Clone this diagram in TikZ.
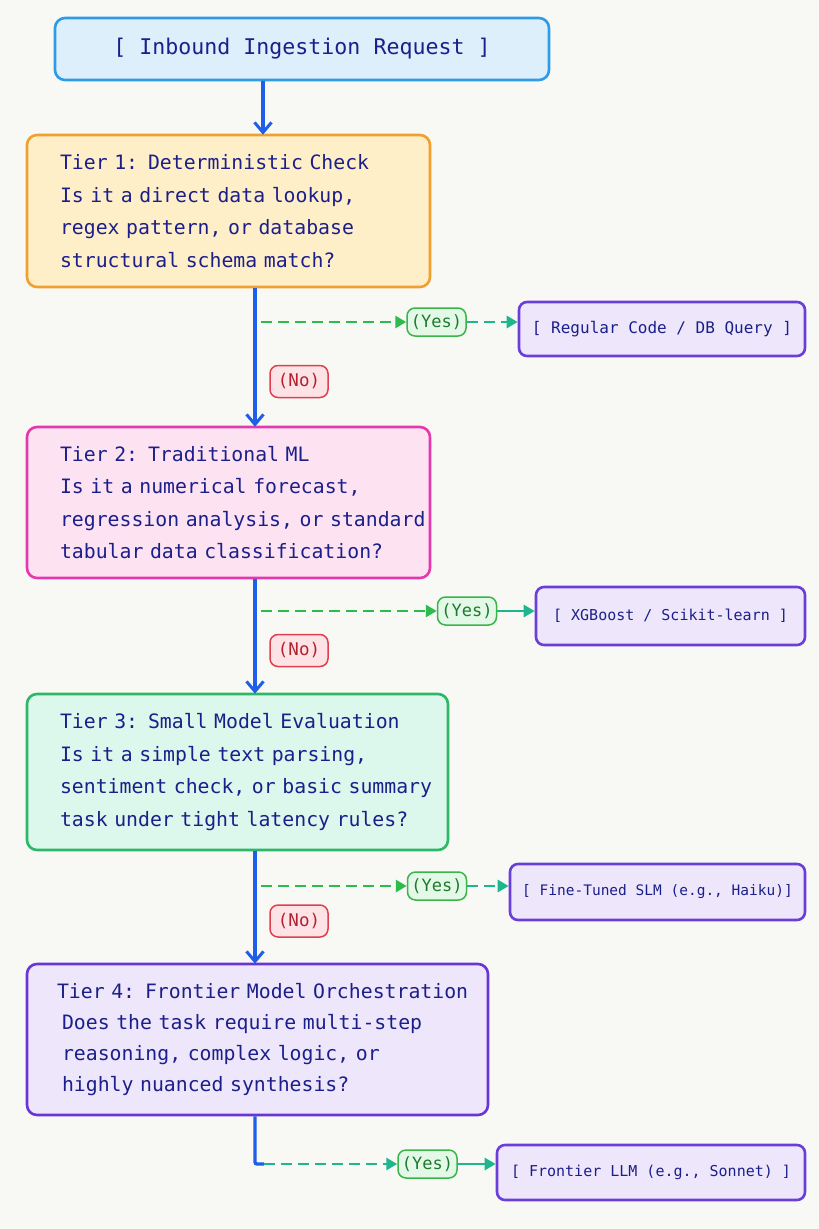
\documentclass[tikz,border=0pt]{standalone}
\usepackage{fontspec}
\setmainfont{DejaVu Sans Mono}
\usetikzlibrary{arrows.meta}
\definecolor{bgc}{HTML}{F8F9F4}
\definecolor{ink}{HTML}{1B1F8A}
\definecolor{inF}{HTML}{DCEFFB}\definecolor{inD}{HTML}{2D9BE6}
\definecolor{aF}{HTML}{FFEFC9}\definecolor{aD}{HTML}{F0A030}
\definecolor{bF}{HTML}{FDE2F2}\definecolor{bD}{HTML}{E23AAE}
\definecolor{cF}{HTML}{DCF7EC}\definecolor{cD}{HTML}{2CB866}
\definecolor{dF}{HTML}{EEE6FB}\definecolor{dD}{HTML}{6A35D8}
\definecolor{rF}{HTML}{EEE7FB}\definecolor{rD}{HTML}{6A3ED8}
\definecolor{yF}{HTML}{E3F8E6}\definecolor{yD}{HTML}{39B54A}\definecolor{yT}{HTML}{1E7A2E}
\definecolor{nF}{HTML}{FDE3E6}\definecolor{nD}{HTML}{E0404E}\definecolor{nT}{HTML}{B3202F}
\definecolor{spine}{HTML}{1F5FE8}
\definecolor{gline}{HTML}{2DBB4E}\definecolor{tline}{HTML}{1FB58F}
\newcommand{\tline}[1]{\mbox{#1}}
\begin{document}
\begin{tikzpicture}[x=1pt,y=-1pt,
  tierbox/.style={rectangle, rounded corners=10pt, line width=2.6pt, inner xsep=33pt, inner ysep=0pt,
    align=left, text=ink, font=\fontsize{19.8}{32.5}\selectfont},
  sidebox/.style={rectangle, rounded corners=8pt, line width=2.6pt, draw=rD, fill=rF, inner sep=0pt,
    text=ink, font=\fontsize{15}{18}\selectfont},
  yesbox/.style={rectangle, rounded corners=8pt, line width=1.5pt, draw=yD, fill=yF, inner sep=0pt,
    minimum width=59pt, minimum height=28pt, text=yT, font=\fontsize{17}{20}\selectfont},
  nobox/.style={rectangle, rounded corners=8pt, line width=1.5pt, draw=nD, fill=nF, inner sep=0pt,
    minimum width=58pt, minimum height=32pt, text=nT, font=\fontsize{17.5}{20}\selectfont},
  spineline/.style={draw=spine, line width=3.4pt},
  spinearrow/.style={spineline, -{Straight Barb[length=10pt,width=17pt,line width=3pt]}},
  yesline/.style={draw=gline, line width=2.8pt, dash pattern=on 11pt off 6pt, -{Triangle[length=11pt,width=12pt]}},
  yesline2/.style={draw=tline, line width=2.8pt, dash pattern=on 11pt off 6pt, -{Triangle[length=11pt,width=12pt]}},
  yessolid/.style={draw=tline, line width=2.8pt, -{Triangle[length=11pt,width=12pt]}}
]
\fill[bgc] (0,0) rectangle (819,1229);
\useasboundingbox (0,0) rectangle (819,1229);

% main column
\node[tierbox, draw=inD, fill=inF, minimum width=494pt, minimum height=62pt, inner xsep=0pt, align=center,
  font=\fontsize{21.6}{26}\selectfont] (inb) at (302,49) {[ Inbound Ingestion Request ]};

\node[tierbox, draw=aD, fill=aF, text width=337pt, minimum height=152pt] (t1) at (228.5,211)
 {\tline{Tier 1: Deterministic Check}\\\tline{Is it a direct data lookup,}\\\tline{regex pattern, or database}\\\tline{structural schema match?}};

\node[tierbox, draw=bD, fill=bF, text width=337pt, minimum height=151pt] (t2) at (228.5,502.5)
 {\tline{Tier 2: Traditional ML}\\\tline{Is it a numerical forecast,}\\\tline{regression analysis, or standard}\\\tline{tabular data classification?}};

\node[tierbox, draw=cD, fill=cF, text width=355pt, minimum height=156pt] (t3) at (237.5,772)
 {\tline{Tier 3: Small Model Evaluation}\\\tline{Is it a simple text parsing,}\\\tline{sentiment check, or basic summary}\\\tline{task under tight latency rules?}};

\node[tierbox, draw=dD, fill=dF, text width=401pt, minimum height=151pt, inner xsep=30pt,
  font=\fontsize{19.8}{31}\selectfont] (t4) at (257.5,1039.5)
 {\tline{Tier 4: Frontier Model Orchestration}\\\tline{\hspace*{5pt}Does the task require multi-step}\\\tline{\hspace*{5pt}reasoning, complex logic, or}\\\tline{\hspace*{5pt}highly nuanced synthesis?}};

% result boxes
\node[sidebox, minimum width=286pt, minimum height=54pt, font=\fontsize{16}{18}\selectfont] (r1) at (662,329) {[ Regular Code / DB Query ]};
\node[sidebox, minimum width=269pt, minimum height=58pt] (r2) at (670.5,616) {[ XGBoost / Scikit-learn ]};
\node[sidebox, minimum width=295pt, minimum height=56pt, font=\fontsize{14.5}{18}\selectfont] (r3) at (657.5,892) {[ Fine-Tuned SLM (e.g., Haiku)]};
\node[sidebox, minimum width=308pt, minimum height=55pt] (r4) at (651,1172.5) {[ Frontier LLM (e.g., Sonnet) ]};

% labels
\node[yesbox] (y1) at (436.5,322) {(Yes)};
\node[yesbox] (y2) at (467,611) {(Yes)};
\node[yesbox] (y3) at (437,886) {(Yes)};
\node[yesbox] (y4) at (427.5,1164) {(Yes)};
\node[nobox] (n1) at (299,381.5) {(No)};
\node[nobox] (n2) at (299,650.5) {(No)};
\node[nobox] (n3) at (299,921) {(No)};

% spine coordinates
\coordinate (sa) at (263,0);
\coordinate (sp) at (255,0);
\coordinate (s1) at (261,322);
\coordinate (s2) at (261,611);
\coordinate (s3) at (261,886);
\coordinate (c4) at (264,1164);

% connectors
\draw[spinearrow] (inb.south -| sa) -- ([yshift=-1pt]t1.north -| sa);
\draw[spinearrow] (t1.south -| sp) -- ([yshift=-1pt]t2.north -| sp);
\draw[spinearrow] (t2.south -| sp) -- ([yshift=-1pt]t3.north -| sp);
\draw[spinearrow] (t3.south -| sp) -- ([yshift=-1pt]t4.north -| sp);
\draw[spineline, rounded corners=2pt] (t4.south -| sp) |- (c4);

\draw[yesline] (s1) -- (y1.west);
\draw[yesline2] (y1.east) -- (y1.east -| r1.west);
\draw[yesline] (s2) -- (y2.west);
\draw[yessolid] (y2.east) -- (y2.east -| r2.west);
\draw[yesline] (s3) -- (y3.west);
\draw[yesline2] (y3.east) -- (y3.east -| r3.west);
\draw[yesline2] (c4) -- (y4.west);
\draw[yessolid] (y4.east) -- (y4.east -| r4.west);
\end{tikzpicture}
\end{document}
